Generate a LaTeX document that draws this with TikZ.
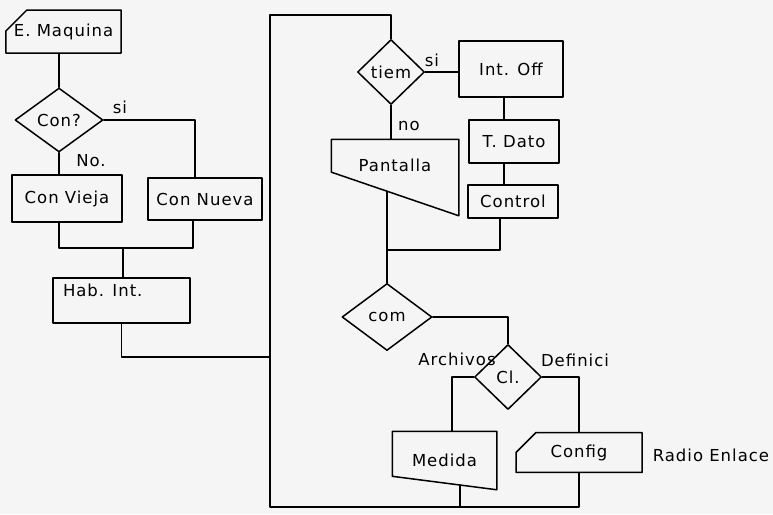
\documentclass[tikz,border=0pt]{standalone}
\usepackage{fontspec}
\setmainfont{DejaVu Sans}[LetterSpace=6]
\usetikzlibrary{shapes.geometric,shapes.misc,calc}
\tikzset{
  caja/.style={draw, rectangle, inner sep=0pt},
  rombo/.style={draw, diamond, inner sep=0pt},
  tarjeta/.style={draw, chamfered rectangle, chamfered rectangle corners=north west, inner sep=0pt},
  nota/.style={inner sep=0pt}
}
\begin{document}
\begin{tikzpicture}[x=1pt, y=-1pt, line width=1.5pt, line join=round, line cap=round, font=\fontsize{16.5}{19}\selectfont]
  \fill[black!4] (0,0) rectangle (773,514);
  \useasboundingbox (0,0) rectangle (773,514);
  % configuracion inicial
  \node[tarjeta, minimum width=113pt, minimum height=43pt, chamfered rectangle xsep=9pt, chamfered rectangle ysep=13pt] (emaq) at (63.5,31.5) {E. Maquina};
  \node[rombo, minimum width=88pt, minimum height=64pt] (con) at (59,120) {Con?};
  \node[caja, minimum width=110pt, minimum height=47pt] (vieja) at (67,198.5) {Con Vieja};
  \node[caja, minimum width=114pt, minimum height=42pt] (nueva) at (205,199) {Con Nueva};
  \node[caja, minimum width=137pt, minimum height=45pt, text width=117pt, align=left, text depth=20pt] (hab) at (121.5,300.5) {Hab. Int.};
  % lazo principal
  \node[rombo, minimum width=67pt, minimum height=65pt] (tiem) at (391,72) {tiem};
  \node[caja, minimum width=104pt, minimum height=56pt] (off) at (511,69) {Int. Off};
  \node[caja, minimum width=90pt, minimum height=43pt] (dato) at (514,141.5) {T. Dato};
  \node[caja, minimum width=90pt, minimum height=33pt] (ctrl) at (513,201.5) {Control};
  \node[nota, minimum width=126pt, minimum height=75pt, text depth=24pt] (pant) at (395,177.5) {Pantalla};
  \node[rombo, minimum width=90pt, minimum height=67pt] (com) at (387,317) {com};
  \node[rombo, minimum width=67pt, minimum height=65pt] (cl) at (508,377) {Cl.};
  \node[nota, minimum width=103pt, minimum height=57pt] (med) at (444.5,460.5) {Medida};
  \node[tarjeta, minimum width=126pt, minimum height=35pt, chamfered rectangle xsep=9pt, chamfered rectangle ysep=12pt] (conf) at (579,452.5) {Config};
  \foreach \n/\f in {pant/0.43, med/0.77}{
    \coordinate (\n-sw) at ($(\n.north west)!\f!(\n.south west)$);
    \draw (\n.north west) -- (\n.north east) -- (\n.south east) -- (\n-sw) -- cycle;}
  % uniones
  \coordinate (une1) at (123,248);
  \coordinate (entra) at (270,357);
  \coordinate (esq1) at (270,15);
  \coordinate (esq2) at (270,507);
  \coordinate (une2) at (387,250);
  \coordinate (pantout) at ($(pant-sw)!0.437!(pant.south east)$);
  \coordinate (medout) at ($(med-sw)!0.65!(med.south east)$);
  \draw (con.north) -- (con.north |- emaq.south);
  \draw (con.east) -| ([xshift=-10pt]nueva.north);
  \draw (con.south) -- (con.south |- vieja.north);
  \draw (con.south |- vieja.south) |- (une1) -| ([xshift=-12pt]nueva.south);
  \draw (une1) -- (une1 |- hab.north);
  \draw (hab.south) |- (entra);
  \draw (tiem.north) |- (esq1) -- (esq2) -| (conf.south);
  \draw (tiem.east) -- (tiem.east -| off.west);
  \draw (tiem.south) -- (tiem.south |- pant.north);
  \draw ([xshift=-7pt]off.south) -- ([xshift=-7pt]off.south |- dato.north);
  \draw ([xshift=-10pt]dato.south) -- ([xshift=-10pt]dato.south |- ctrl.north);
  \draw ([xshift=-13pt]ctrl.south) |- (une2);
  \draw (com.north) -- (com.north |- pantout);
  \draw (com.east) -| (cl.north);
  \draw (cl.west) -| ([xshift=7.5pt]med.north);
  \draw (cl.east) -| (conf.north);
  \draw (medout) -- (medout |- esq2);
  % rotulos
  \foreach \n/\t/\p in {si1/si/{120,107}, no1/No./{91,161}, si2/si/{432,60}, no2/no/{409,126}, arch/Archivos/{457,359}, defi/Definici/{575,360}}
    \node[nota] (\n) at (\p) {\t};
  \node[nota, anchor=west] (radio) at (652,455) {Radio Enlace};
\end{tikzpicture}
\end{document}
